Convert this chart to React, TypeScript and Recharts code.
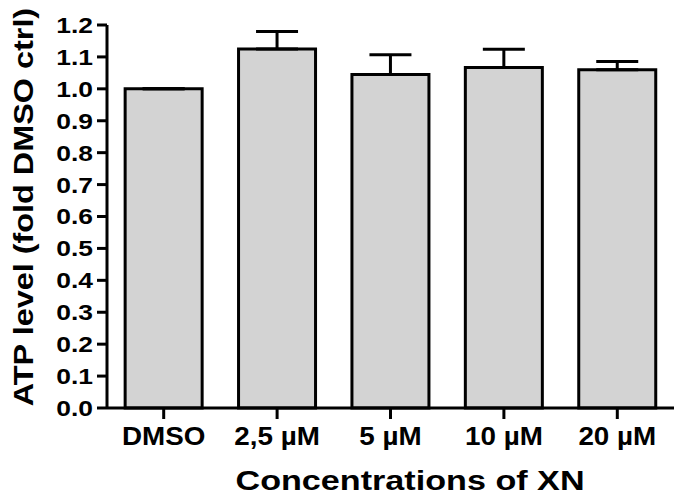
import { BarChart, Bar, XAxis, YAxis, ErrorBar } from "recharts"

const categories = ["DMSO", "2,5 µM", "5 µM", "10 µM", "20 µM"]
const means = [1.0, 1.125, 1.045, 1.067, 1.06]
const sems = [0, 0.055, 0.062, 0.057, 0.026]
const yTicks = [0, 0.1, 0.2, 0.3, 0.4, 0.5, 0.6, 0.7, 0.8, 0.9, 1.0, 1.1, 1.2]

const data = categories.map((name, i) => ({ name, mean: means[i], err: [0, sems[i]] }))

const FONT = "'Liberation Sans', Arial, sans-serif"

function YTick({ x, y, payload }: any) {
  return (
    <text
      transform={`translate(${x},${y}) scale(1.2,1)`}
      textAnchor="end"
      dy="0.36em"
      fontFamily={FONT}
      fontWeight="bold"
      fontSize={22}
      fill="#000"
    >
      {Number(payload.value).toFixed(1)}
    </text>
  )
}

function XTick({ x, y, payload }: any) {
  return (
    <text
      transform={`translate(${x},${y}) scale(1.07,1)`}
      textAnchor="middle"
      dy="0.72em"
      fontFamily={FONT}
      fontWeight="bold"
      fontSize={26}
      fill="#000"
    >
      {payload.value}
    </text>
  )
}

export default function App() {
  return (
    <div style={{ position: "absolute", left: 0, top: 0, background: "#fff" }}>
      <BarChart
        width={684}
        height={495}
        data={data}
        margin={{ top: 25, right: 10, left: 0, bottom: 0 }}
        barCategoryGap="16%"
      >
        <XAxis
          dataKey="name"
          height={87}
          tick={<XTick />}
          tickSize={11}
          tickMargin={7}
          axisLine={{ stroke: "#000", strokeWidth: 3 }}
          tickLine={{ stroke: "#000", strokeWidth: 3 }}
        />
        <YAxis
          width={107}
          domain={[0, 1.2]}
          ticks={yTicks}
          interval={0}
          tick={<YTick />}
          tickSize={10}
          tickMargin={4}
          axisLine={{ stroke: "#000", strokeWidth: 3 }}
          tickLine={{ stroke: "#000", strokeWidth: 3 }}
        />
        <Bar dataKey="mean" fill="#d3d3d3" stroke="#000" strokeWidth={3} isAnimationActive={false}>
          <ErrorBar dataKey="err" direction="y" width={21} stroke="#000" strokeWidth={3} />
        </Bar>
        <text
          transform="translate(33,207) rotate(-90) scale(1.2,1)"
          textAnchor="middle"
          fontFamily={FONT}
          fontWeight="bold"
          fontSize={27}
          fill="#000"
        >
          ATP level (fold DMSO ctrl)
        </text>
        <text
          transform="translate(410,490) scale(1.22,1)"
          textAnchor="middle"
          fontFamily={FONT}
          fontWeight="bold"
          fontSize={28}
          fill="#000"
        >
          Concentrations of XN
        </text>
      </BarChart>
    </div>
  )
}
